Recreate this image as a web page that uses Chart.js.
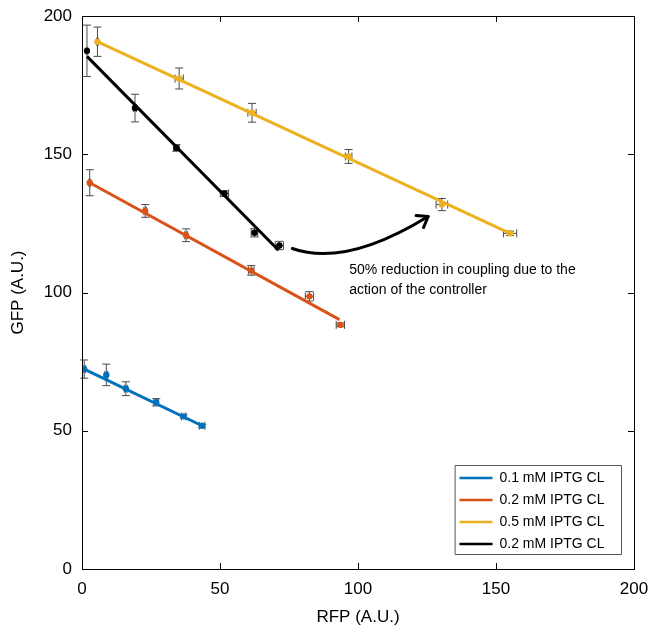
<!DOCTYPE html>
<html>
<head>
<meta charset="utf-8">
<script src="https://cdn.jsdelivr.net/npm/chart.js@4.4.0/dist/chart.umd.min.js"></script>
<style>
  html, body { margin: 0; padding: 0; background: #fff; }
  #wrap { width: 651px; height: 629px; }
</style>
</head>
<body>
<div id="wrap"><canvas id="chart" width="651" height="629"></canvas></div>
<script>
// values
const seriesLabels = ["0.1 mM IPTG CL", "0.2 mM IPTG CL", "0.5 mM IPTG CL", "0.2 mM IPTG CL"];
const seriesColors = ["#0072BD", "#D95319", "#EDB120", "#000000"];

const blueX = [0.8, 8.8, 15.9, 26.9, 36.8, 43.5];
const blueY = [72.3, 70.2, 65.2, 60.3, 55.2, 51.8];
const blueYErr = [3.3, 3.9, 2.5, 1.3, 0.6, 0.5];
const blueXErr = [0.5, 0.5, 0.5, 0.8, 0.8, 1.0];

const orangeX = [2.8, 22.9, 37.7, 61.3, 82.4, 93.6];
const orangeY = [139.7, 129.5, 120.7, 108.0, 98.6, 88.3];
const orangeYErr = [4.7, 2.3, 2.3, 1.75, 1.7, 0.7];
const orangeXErr = [0.3, 0.5, 0.5, 1.0, 1.5, 1.5];

const yellowX = [5.6, 35.2, 61.6, 96.6, 130.4, 155.1];
const yellowY = [190.7, 177.4, 165.0, 149.2, 131.8, 121.4];
const yellowYErr = [5.3, 3.8, 3.4, 2.5, 2.2, 0.8];
const yellowXErr = [0.3, 1.5, 1.5, 1.2, 2.1, 2.4];

const blackX = [1.8, 19.2, 34.2, 51.6, 62.5, 71.5];
const blackY = [187.4, 166.7, 152.3, 135.8, 121.6, 117.0];
const blackYErr = [9.3, 5.0, 1.2, 1.0, 1.5, 1.5];
const blackXErr = [0.3, 0.5, 1.0, 1.5, 1.2, 1.5];

// fitted lines (end points)
const blueFitX = [0.8, 43.5], blueFitY = [72.3, 51.8];
const orangeFitX = [2.8, 93.3], orangeFitY = [139.7, 90.2];
const yellowFitX = [5.6, 155.1], yellowFitY = [190.7, 121.4];
const blackFitX = [1.8, 71.2], blackFitY = [185.4, 115.3];

const tickValues = [0, 50, 100, 150, 200];

// annotation (arrow + text) in data units
const arrowStart = [76.2, 115.9], arrowCtrl = [95.4, 109.1], arrowEnd = [125.4, 127.5];
const noteAt = [96.8, 108.0];
const noteLines = ["50% reduction in coupling due to the", "action of the controller"];

const FONT = "'Liberation Sans', Arial, Helvetica, sans-serif";

function pts(xs, ys) {
  return xs.map((x, i) => ({ x: x, y: ys[i] }));
}

const points = [
  { x: blueX, y: blueY, ex: blueXErr, ey: blueYErr },
  { x: orangeX, y: orangeY, ex: orangeXErr, ey: orangeYErr },
  { x: yellowX, y: yellowY, ex: yellowXErr, ey: yellowYErr },
  { x: blackX, y: blackY, ex: blackXErr, ey: blackYErr },
];
const fits = [
  [blueFitX, blueFitY], [orangeFitX, orangeFitY],
  [yellowFitX, yellowFitY], [blackFitX, blackFitY],
];

const datasets = [];
points.forEach((s, i) => {
  datasets.push({
    label: seriesLabels[i] + " data",
    data: pts(s.x, s.y),
    showLine: false,
    pointRadius: 3.2,
    pointBackgroundColor: seriesColors[i],
    pointBorderWidth: 0,
    order: 2,
  });
});
fits.forEach((f, i) => {
  datasets.push({
    label: seriesLabels[i],
    data: pts(f[0], f[1]),
    showLine: true,
    borderColor: seriesColors[i],
    borderWidth: 3,
    pointRadius: 0,
    order: 1,
  });
});

const extras = {
  id: "extras",
  beforeDatasetsDraw(chart) {
    const ctx = chart.ctx;
    const xs = chart.scales.x, ys = chart.scales.y;
    // error bars
    ctx.save();
    ctx.strokeStyle = "#4a4a4a";
    ctx.lineWidth = 1;
    const cap = 4;
    points.forEach((s) => {
      s.x.forEach((xv, i) => {
        const px = xs.getPixelForValue(xv), py = ys.getPixelForValue(s.y[i]);
        const y0 = ys.getPixelForValue(s.y[i] - s.ey[i]);
        const y1 = ys.getPixelForValue(s.y[i] + s.ey[i]);
        ctx.beginPath();
        ctx.moveTo(px, y0); ctx.lineTo(px, y1);
        ctx.moveTo(px - cap, y0); ctx.lineTo(px + cap, y0);
        ctx.moveTo(px - cap, y1); ctx.lineTo(px + cap, y1);
        const x0 = xs.getPixelForValue(xv - s.ex[i]);
        const x1 = xs.getPixelForValue(xv + s.ex[i]);
        ctx.moveTo(x0, py); ctx.lineTo(x1, py);
        ctx.moveTo(x0, py - cap); ctx.lineTo(x0, py + cap);
        ctx.moveTo(x1, py - cap); ctx.lineTo(x1, py + cap);
        ctx.stroke();
      });
    });
    ctx.restore();
  },
  afterDraw(chart) {
    const ctx = chart.ctx;
    const a = chart.chartArea;
    const xs = chart.scales.x, ys = chart.scales.y;
    ctx.save();
    // frame with inward ticks
    ctx.strokeStyle = "#000";
    ctx.lineWidth = 1;
    ctx.strokeRect(Math.round(a.left) + 0.5, Math.round(a.top) + 0.5,
      Math.round(a.right - a.left), Math.round(a.bottom - a.top));
    const tl = 6;
    ctx.beginPath();
    tickValues.forEach((v) => {
      const px = Math.round(xs.getPixelForValue(v)) + 0.5;
      ctx.moveTo(px, a.bottom); ctx.lineTo(px, a.bottom - tl);
      ctx.moveTo(px, a.top); ctx.lineTo(px, a.top + tl);
      const py = Math.round(ys.getPixelForValue(v)) + 0.5;
      ctx.moveTo(a.left, py); ctx.lineTo(a.left + tl, py);
      ctx.moveTo(a.right, py); ctx.lineTo(a.right - tl, py);
    });
    ctx.stroke();

    // curved arrow
    const sx = xs.getPixelForValue(arrowStart[0]), sy = ys.getPixelForValue(arrowStart[1]);
    const cx = xs.getPixelForValue(arrowCtrl[0]), cy = ys.getPixelForValue(arrowCtrl[1]);
    const ex = xs.getPixelForValue(arrowEnd[0]), ey = ys.getPixelForValue(arrowEnd[1]);
    ctx.lineWidth = 3;
    ctx.lineCap = "round";
    ctx.lineJoin = "round";
    ctx.beginPath();
    ctx.moveTo(sx, sy);
    ctx.quadraticCurveTo(cx, cy, ex, ey);
    ctx.stroke();
    const ang = Math.atan2(ey - cy, ex - cx);
    const hl = 12, ha = Math.PI / 5;
    ctx.beginPath();
    ctx.moveTo(ex - hl * Math.cos(ang - ha), ey - hl * Math.sin(ang - ha));
    ctx.lineTo(ex, ey);
    ctx.lineTo(ex - hl * Math.cos(ang + ha), ey - hl * Math.sin(ang + ha));
    ctx.stroke();

    // note text
    ctx.fillStyle = "#000";
    ctx.font = "14px " + FONT;
    ctx.textBaseline = "middle";
    ctx.textAlign = "left";
    const nx = xs.getPixelForValue(noteAt[0]), ny = ys.getPixelForValue(noteAt[1]);
    noteLines.forEach((t, i) => ctx.fillText(t, nx, ny + i * 20));

    // legend box
    const bw = 166, bh = 89;
    const bx = Math.round(a.right - 13 - bw) + 0.5, by = Math.round(a.bottom - 15 - bh) + 0.5;
    ctx.fillStyle = "#fff";
    ctx.fillRect(bx, by, bw, bh);
    ctx.lineWidth = 1;
    ctx.strokeStyle = "#555";
    ctx.strokeRect(bx, by, bw, bh);
    ctx.lineCap = "butt";
    seriesLabels.forEach((lab, i) => {
      const ly = by + 12.5 + i * 22;
      ctx.strokeStyle = seriesColors[i];
      ctx.lineWidth = 2.5;
      ctx.beginPath();
      ctx.moveTo(bx + 4, ly); ctx.lineTo(bx + 37, ly);
      ctx.stroke();
      ctx.fillStyle = "#000";
      ctx.font = "14px " + FONT;
      ctx.fillText(lab, bx + 44, ly + 0.5);
    });
    ctx.restore();
  },
};

new Chart(document.getElementById("chart"), {
  type: "scatter",
  data: { datasets: datasets },
  options: {
    responsive: false,
    animation: false,
    layout: { padding: { left: 0, right: 17, top: 16, bottom: 0 } },
    plugins: { legend: { display: false }, tooltip: { enabled: false } },
    scales: {
      x: {
        type: "linear",
        min: 0, max: 200,
        afterFit: (s) => { s.height = 60; s.paddingRight = 0; s.paddingLeft = 0; },
        afterBuildTicks: (s) => { s.ticks = tickValues.map((v) => ({ value: v })); },
        grid: { display: false, drawTicks: false },
        border: { display: false },
        ticks: { color: "#000", padding: 10, font: { family: FONT, size: 17 } },
        title: { display: true, text: "RFP (A.U.)", color: "#000", padding: { top: 0, bottom: 1 }, font: { family: FONT, size: 17 } },
      },
      y: {
        type: "linear",
        min: 0, max: 200,
        afterFit: (s) => { s.width = 82; s.paddingTop = 0; s.paddingBottom = 0; },
        afterBuildTicks: (s) => { s.ticks = tickValues.map((v) => ({ value: v })); },
        grid: { display: false, drawTicks: false },
        border: { display: false },
        ticks: { color: "#000", padding: 10, font: { family: FONT, size: 17 } },
        title: { display: true, text: "GFP (A.U.)", color: "#000", padding: { bottom: 0, top: 8 }, font: { family: FONT, size: 17 } },
      },
    },
  },
  plugins: [extras],
});
</script>
</body>
</html>
